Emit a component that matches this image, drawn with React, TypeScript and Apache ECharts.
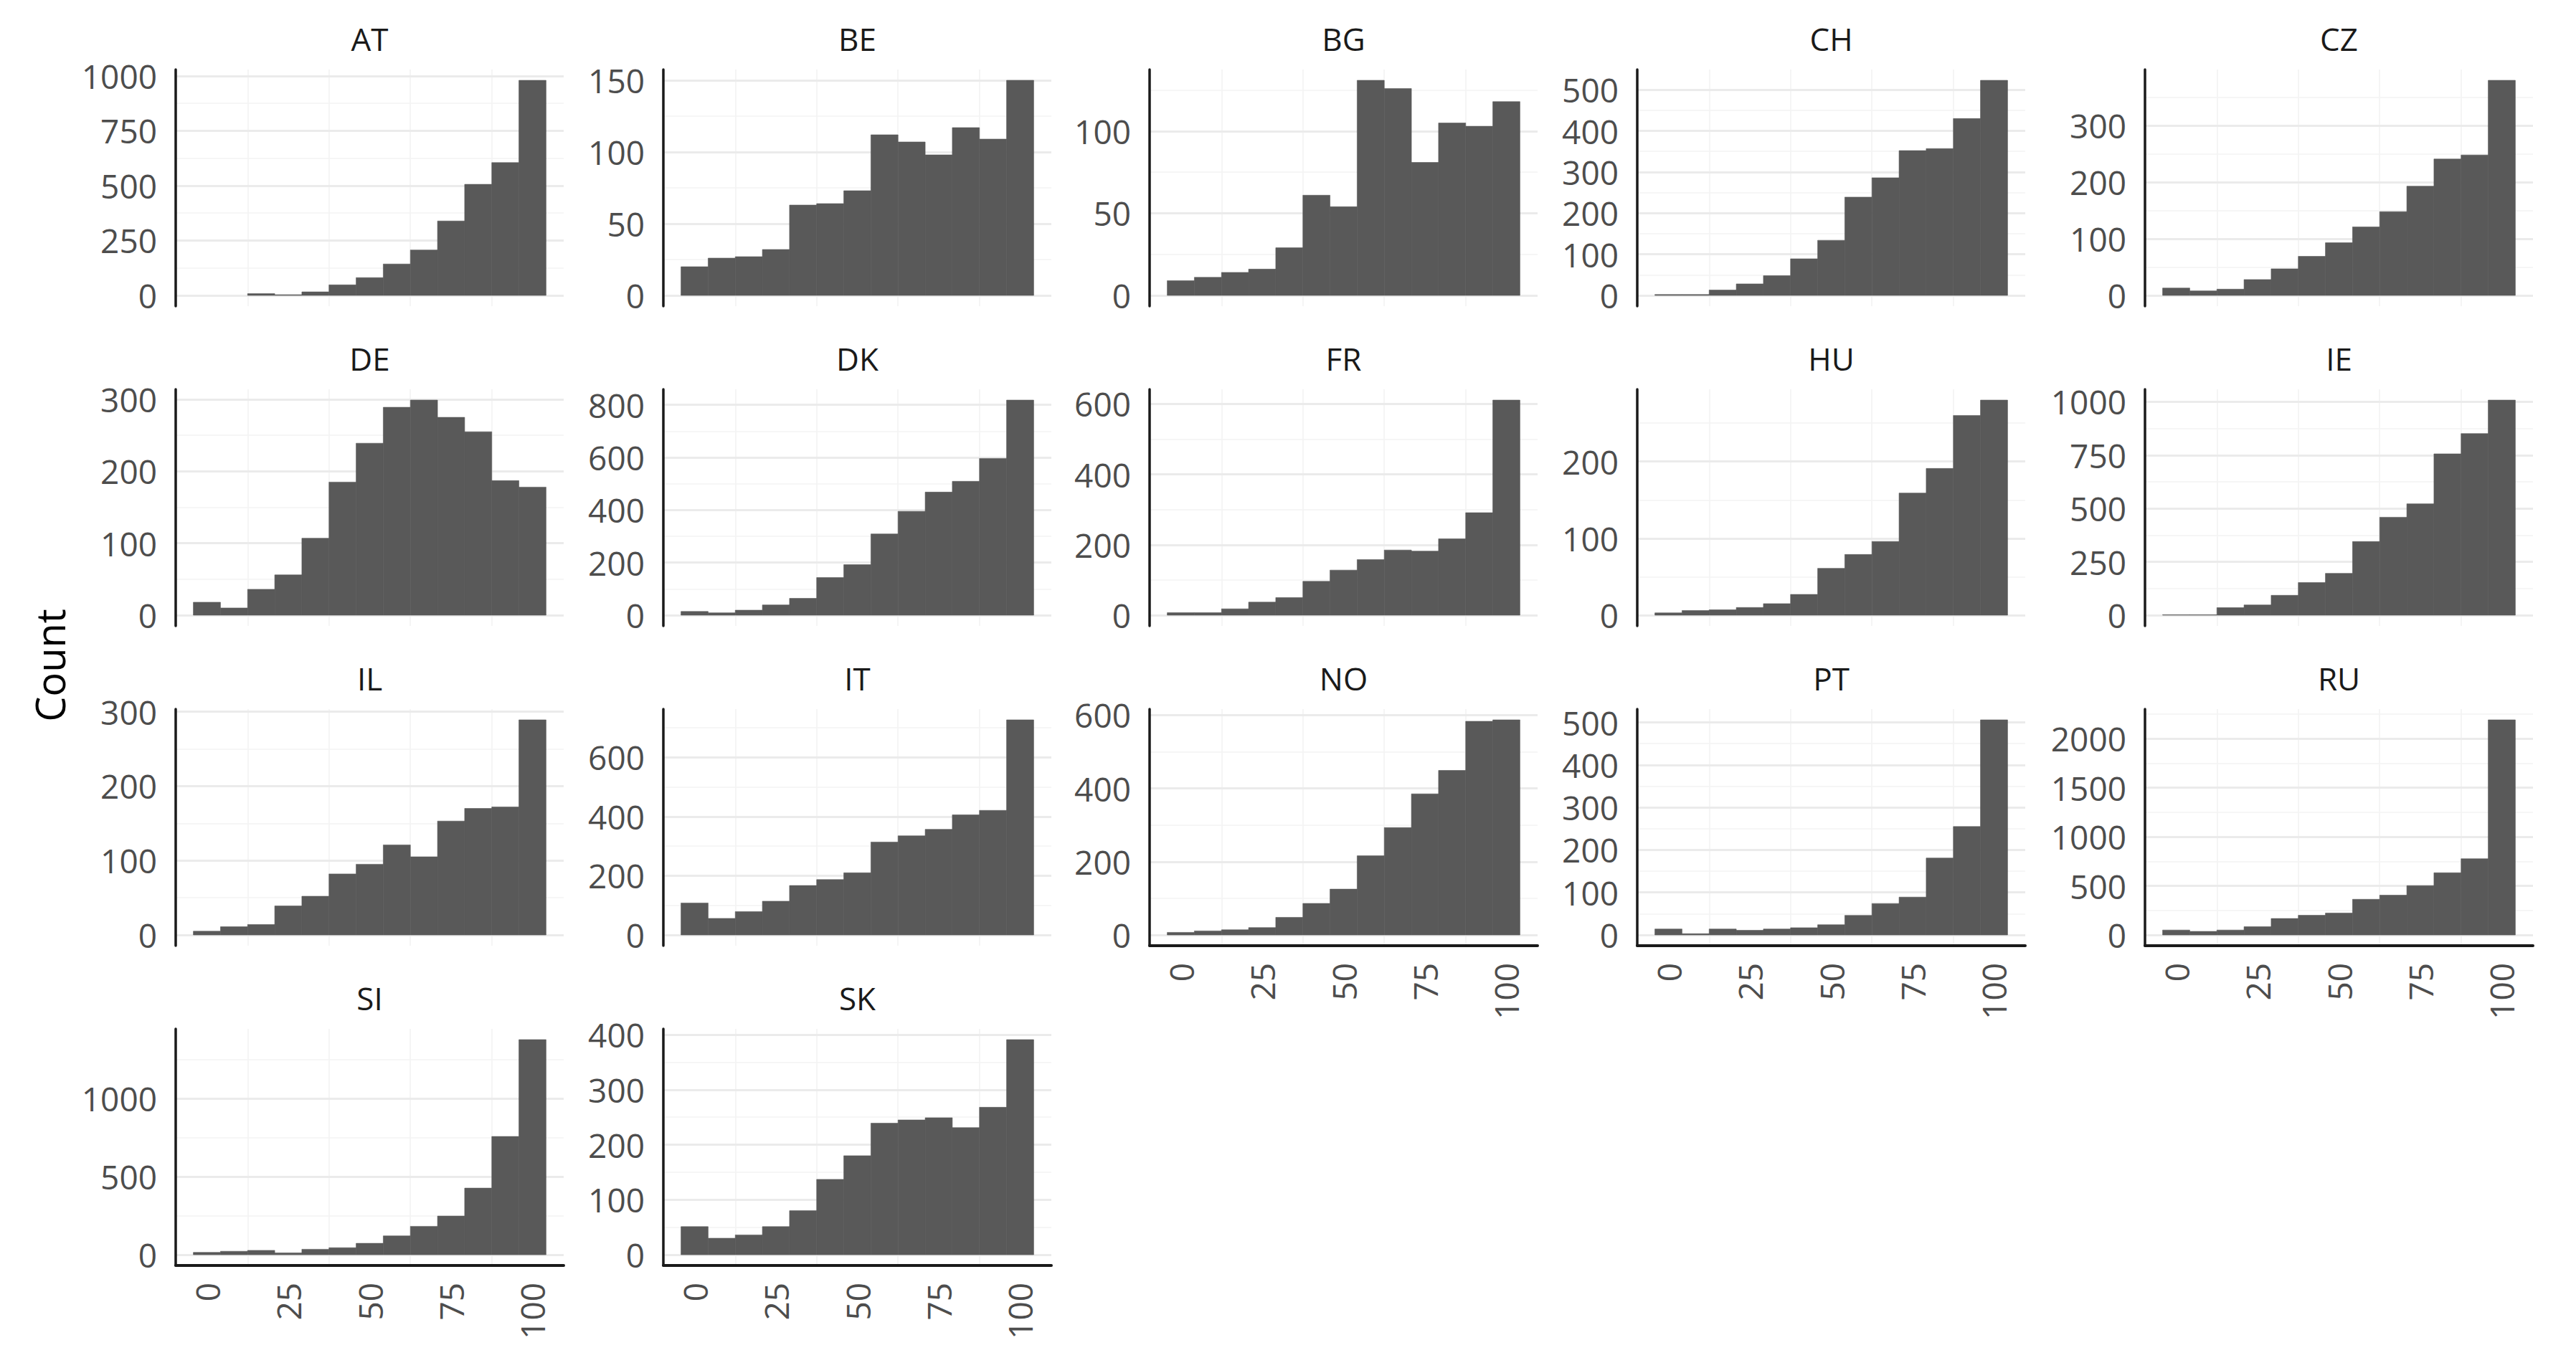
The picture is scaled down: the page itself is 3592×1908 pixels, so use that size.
import React, { useEffect, useRef } from 'react';
import * as echarts from 'echarts';

// ---------- data ----------
const COUNTRIES = ['AT', 'BE', 'BG', 'CH', 'CZ', 'DE', 'DK', 'FR', 'HU', 'IE', 'IL', 'IT', 'NO', 'PT', 'RU', 'SI', 'SK'];

// 13 bins, centred on 0, 8.33, ..., 100
const AT = [0, 0, 8, 3, 16, 48, 81, 143, 207, 339, 506, 605, 980];
const BE = [20, 26, 27, 32, 63, 64, 73, 112, 107, 98, 117, 109, 150];
const BG = [9, 11, 14, 16, 29, 61, 54, 131, 126, 81, 105, 103, 118];
const CH = [2, 2, 13, 28, 48, 89, 134, 239, 286, 352, 357, 430, 523];
const CZ = [13, 8, 11, 28, 47, 69, 93, 121, 148, 193, 241, 248, 380];
const DE = [18, 10, 36, 56, 107, 185, 239, 289, 299, 275, 255, 187, 178];
const DK = [14, 9, 19, 39, 64, 143, 192, 309, 395, 468, 509, 596, 818];
const FR = [7, 7, 18, 37, 50, 96, 128, 158, 185, 182, 217, 291, 611];
const HU = [3, 6, 7, 10, 15, 27, 61, 79, 96, 159, 191, 260, 280];
const IE = [2, 2, 35, 48, 93, 153, 196, 345, 459, 522, 756, 851, 1008];
const IL = [5, 11, 14, 39, 52, 82, 95, 121, 105, 153, 170, 172, 289];
const IT = [108, 56, 79, 114, 167, 187, 210, 314, 335, 357, 406, 421, 727];
const NO = [7, 11, 14, 20, 48, 86, 125, 216, 293, 385, 449, 583, 587];
const PT = [14, 3, 14, 11, 14, 17, 24, 46, 74, 89, 181, 255, 506];
const RU = [50, 36, 50, 84, 167, 200, 223, 363, 405, 502, 633, 776, 2190];
const SI = [15, 22, 28, 12, 35, 45, 73, 121, 182, 248, 427, 758, 1379];
const SK = [51, 30, 36, 51, 80, 137, 180, 239, 245, 249, 231, 268, 391];

// y tick labels per panel
const AT_Y = [0, 250, 500, 750, 1000];
const BE_Y = [0, 50, 100, 150];
const BG_Y = [0, 50, 100];
const CH_Y = [0, 100, 200, 300, 400, 500];
const CZ_Y = [0, 100, 200, 300];
const DE_Y = [0, 100, 200, 300];
const DK_Y = [0, 200, 400, 600, 800];
const FR_Y = [0, 200, 400, 600];
const HU_Y = [0, 100, 200];
const IE_Y = [0, 250, 500, 750, 1000];
const IL_Y = [0, 100, 200, 300];
const IT_Y = [0, 200, 400, 600];
const NO_Y = [0, 200, 400, 600];
const PT_Y = [0, 100, 200, 300, 400, 500];
const RU_Y = [0, 500, 1000, 1500, 2000];
const SI_Y = [0, 500, 1000];
const SK_Y = [0, 100, 200, 300, 400];

const X_TICKS = [0, 25, 50, 75, 100];
const X_MINOR = [12.5, 37.5, 62.5, 87.5];

const COUNTS: Record<string, number[]> = { AT, BE, BG, CH, CZ, DE, DK, FR, HU, IE, IL, IT, NO, PT, RU, SI, SK };
const YTICKS: Record<string, number[]> = {
  AT: AT_Y, BE: BE_Y, BG: BG_Y, CH: CH_Y, CZ: CZ_Y, DE: DE_Y, DK: DK_Y, FR: FR_Y, HU: HU_Y,
  IE: IE_Y, IL: IL_Y, IT: IT_Y, NO: NO_Y, PT: PT_Y, RU: RU_Y, SI: SI_Y, SK: SK_Y,
};

// ---------- layout ----------
const COL_LEFT = [245, 925, 1603, 2283, 2991];
const ROW_TOP = [97, 543, 989, 1435];
const PANEL_W = 541;
const PANEL_H = 330;
const FONT = "'Open Sans', 'Noto Sans', sans-serif";

const BIN_W = 100 / 12;
const X_MIN = -BIN_W / 2 - 0.05 * (100 + BIN_W);
const X_MAX = 100 + BIN_W / 2 + 0.05 * (100 + BIN_W);

function buildOption() {
  const grid: any[] = [];
  const xAxis: any[] = [];
  const yAxis: any[] = [];
  const series: any[] = [];
  const graphic: any[] = [];
  const n = COUNTRIES.length;

  COUNTRIES.forEach((cc, i) => {
    const r = Math.floor(i / 5);
    const c = i % 5;
    const isBottom = i + 5 >= n;
    const counts = COUNTS[cc];
    const maxV = Math.max(...counts);
    const yMin = -0.05 * maxV;
    const yMax = 1.05 * maxV;
    const major = YTICKS[cc];
    const step = major[1] - major[0];
    const minor = major.map((v) => v + step / 2);

    grid.push({ left: COL_LEFT[c], top: ROW_TOP[r], width: PANEL_W, height: PANEL_H });

    xAxis.push({
      type: 'value',
      gridIndex: i,
      min: X_MIN,
      max: X_MAX,
      axisLine: { show: isBottom, onZero: false, lineStyle: { color: '#1A1A1A', width: 4 } },
      axisTick: { show: false, customValues: X_MINOR },
      axisLabel: {
        show: isBottom,
        customValues: X_TICKS,
        rotate: 90,
        margin: 24,
        color: '#4D4D4D',
        fontSize: 46,
        fontFamily: FONT,
        formatter: (v: number) => String(v),
      },
      splitLine: { show: true, lineStyle: { color: '#F3F3F3', width: 1.6 } },
    });

    // major y axis (labels, axis line, major gridlines)
    yAxis.push({
      type: 'value',
      gridIndex: i,
      position: 'left',
      min: yMin,
      max: yMax,
      axisLine: { show: true, onZero: false, lineStyle: { color: '#1A1A1A', width: 3.5 } },
      axisTick: { show: false, customValues: major },
      axisLabel: {
        show: true,
        customValues: major,
        margin: 26,
        color: '#4D4D4D',
        fontSize: 46,
        fontFamily: FONT,
        formatter: (v: number) => String(v),
      },
      splitLine: { show: true, lineStyle: { color: '#EBEBEB', width: 3 } },
      z: 3,
    });
    // minor y axis (minor gridlines only)
    yAxis.push({
      type: 'value',
      gridIndex: i,
      position: 'left',
      min: yMin,
      max: yMax,
      axisLine: { show: false, onZero: false },
      axisTick: { show: false, customValues: minor },
      axisLabel: { show: false },
      splitLine: { show: true, lineStyle: { color: '#F3F3F3', width: 1.6 } },
      z: 1,
    });

    series.push({
      type: 'custom',
      xAxisIndex: i,
      yAxisIndex: 2 * i,
      data: counts.map((v, k) => [k * BIN_W - BIN_W / 2, k * BIN_W + BIN_W / 2, v]),
      encode: { x: [0, 1], y: 2 },
      z: 5,
      renderItem: (params: any, api: any) => {
        const v = api.value(2);
        if (!v) return null;
        const p0 = api.coord([api.value(0), v]);
        const p1 = api.coord([api.value(1), 0]);
        return {
          type: 'rect',
          shape: { x: p0[0], y: p0[1], width: p1[0] - p0[0], height: p1[1] - p0[1] },
          style: { fill: '#595959', stroke: '#595959', lineWidth: 0.6 },
        };
      },
    });

    graphic.push({
      type: 'text',
      x: COL_LEFT[c] + PANEL_W / 2,
      y: ROW_TOP[r] - 43,
      style: {
        text: cc,
        fill: '#1A1A1A',
        font: `44px ${FONT}`,
        align: 'center',
        verticalAlign: 'middle',
        textAlign: 'center',
        textVerticalAlign: 'middle',
      },
    });
  });

  graphic.push({
    type: 'text',
    x: 69,
    y: 928,
    rotation: Math.PI / 2,
    style: {
      text: 'Count',
      fill: '#000000',
      font: `56px ${FONT}`,
      align: 'center',
      verticalAlign: 'middle',
      textAlign: 'center',
      textVerticalAlign: 'middle',
    },
  });

  return {
    animation: false,
    backgroundColor: '#FFFFFF',
    grid,
    xAxis,
    yAxis,
    series,
    graphic,
  };
}

export default function App() {
  const ref = useRef<HTMLDivElement>(null);
  useEffect(() => {
    if (!ref.current) return;
    const chart = echarts.init(ref.current, null, { renderer: 'svg' });
    chart.setOption(buildOption() as any);
    return () => chart.dispose();
  }, []);
  return (
    <div
      ref={ref}
      style={{ position: 'absolute', left: 0, top: 0, width: 3592, height: 1908, background: '#fff' }}
    />
  );
}
